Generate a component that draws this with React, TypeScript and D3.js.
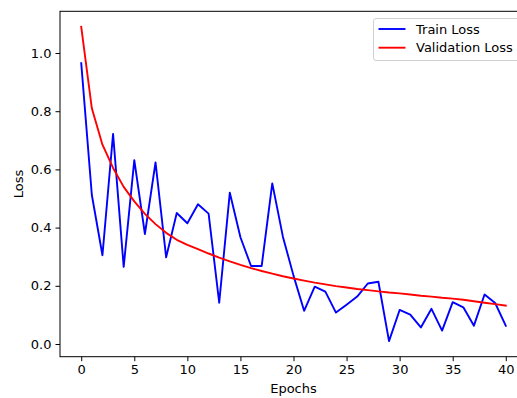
import { axisBottom, axisLeft, line, scaleLinear, select } from "d3";
import { useEffect, useRef } from "react";

const epochs = Array.from({ length: 41 }, (_, i) => i);

const trainLoss = [
  0.965, 0.512, 0.305, 0.722, 0.265, 0.632, 0.378, 0.624, 0.298, 0.45, 0.415,
  0.48, 0.448, 0.142, 0.52, 0.367, 0.268, 0.268, 0.552, 0.369, 0.235, 0.114,
  0.197, 0.18, 0.108, 0.135, 0.163, 0.208, 0.214, 0.01, 0.117, 0.101, 0.057,
  0.121, 0.046, 0.144, 0.126, 0.063, 0.17, 0.141, 0.063,
];

const valLoss = [
  1.09, 0.81, 0.685, 0.605, 0.54, 0.49, 0.447, 0.412, 0.382, 0.358, 0.341,
  0.326, 0.311, 0.297, 0.284, 0.272, 0.261, 0.251, 0.242, 0.233, 0.225, 0.218,
  0.211, 0.205, 0.199, 0.194, 0.189, 0.185, 0.181, 0.177, 0.174, 0.17, 0.166,
  0.163, 0.159, 0.156, 0.152, 0.147, 0.142, 0.137, 0.132,
];

const xTicks = [0, 5, 10, 15, 20, 25, 30, 35, 40];
const yTicks = [0, 0.2, 0.4, 0.6, 0.8, 1.0];

const seriesNames = ["Train Loss", "Validation Loss"];
const seriesColors = ["#0000ff", "#ff0000"];

const W = 517;
const H = 398;
const FONT = "'DejaVu Sans', sans-serif";

export default function App() {
  const svgRef = useRef<SVGSVGElement | null>(null);

  useEffect(() => {
    if (!svgRef.current) return;
    const svg = select(svgRef.current);
    svg.selectAll("*").remove();

    const left = 60;
    const right = 527;
    const top = 11.3;
    const bottom = 356.7;

    const x = scaleLinear().domain([-2, 42]).range([left, right]);
    const y = scaleLinear().domain([-0.0436, 1.1433]).range([bottom, top]);

    svg.append("rect").attr("width", W).attr("height", H).attr("fill", "#fff");

    const lineGen = line<number>()
      .x((_, i) => x(epochs[i]))
      .y((d) => y(d));

    [trainLoss, valLoss].forEach((series, k) => {
      svg
        .append("path")
        .datum(series)
        .attr("d", lineGen)
        .attr("fill", "none")
        .attr("stroke", seriesColors[k])
        .attr("stroke-width", 1.9)
        .attr("stroke-linejoin", "round")
        .attr("stroke-linecap", "square");
    });

    const xAxis = svg
      .append("g")
      .attr("transform", `translate(0,${bottom})`)
      .call(axisBottom(x).tickValues(xTicks).tickSize(4.5).tickPadding(4).tickFormat((d) => String(d)));
    xAxis.select(".domain").remove();

    const yAxis = svg
      .append("g")
      .attr("transform", `translate(${left},0)`)
      .call(axisLeft(y).tickValues(yTicks).tickSize(4.5).tickPadding(4).tickFormat((d) => Number(d).toFixed(1)));
    yAxis.select(".domain").remove();

    svg
      .selectAll(".tick text")
      .attr("font-family", FONT)
      .attr("font-size", 13)
      .attr("fill", "#000");
    svg.selectAll(".tick line").attr("stroke", "#000").attr("stroke-width", 1);

    svg
      .append("rect")
      .attr("x", left)
      .attr("y", top)
      .attr("width", right - left)
      .attr("height", bottom - top)
      .attr("fill", "none")
      .attr("stroke", "#000")
      .attr("stroke-width", 1);

    svg
      .append("text")
      .attr("x", (left + right) / 2)
      .attr("y", 393)
      .attr("text-anchor", "middle")
      .attr("font-family", FONT)
      .attr("font-size", 13)
      .text("Epochs");

    svg
      .append("text")
      .attr("transform", `translate(23,${(top + bottom) / 2}) rotate(-90)`)
      .attr("text-anchor", "middle")
      .attr("font-family", FONT)
      .attr("font-size", 13)
      .text("Loss");

    // legend, upper right (box partly cut by the image edge)
    const legend = svg.append("g");
    legend
      .append("rect")
      .attr("x", 373.5)
      .attr("y", 18.5)
      .attr("width", 147)
      .attr("height", 42)
      .attr("rx", 2.5)
      .attr("fill", "#fff")
      .attr("fill-opacity", 0.8)
      .attr("stroke", "#d0d0d0")
      .attr("stroke-width", 1);
    seriesNames.forEach((name, k) => {
      const cy = 29 + k * 18.7;
      legend
        .append("line")
        .attr("x1", 378.5)
        .attr("x2", 405.5)
        .attr("y1", cy)
        .attr("y2", cy)
        .attr("stroke", seriesColors[k])
        .attr("stroke-width", 1.9);
      legend
        .append("text")
        .attr("x", 416)
        .attr("y", cy)
        .attr("dy", "0.35em")
        .attr("font-family", FONT)
        .attr("font-size", 13)
        .text(name);
    });
  }, []);

  return (
    <svg
      ref={svgRef}
      width={W}
      height={H}
      style={{ position: "absolute", left: 0, top: 0 }}
    />
  );
}
